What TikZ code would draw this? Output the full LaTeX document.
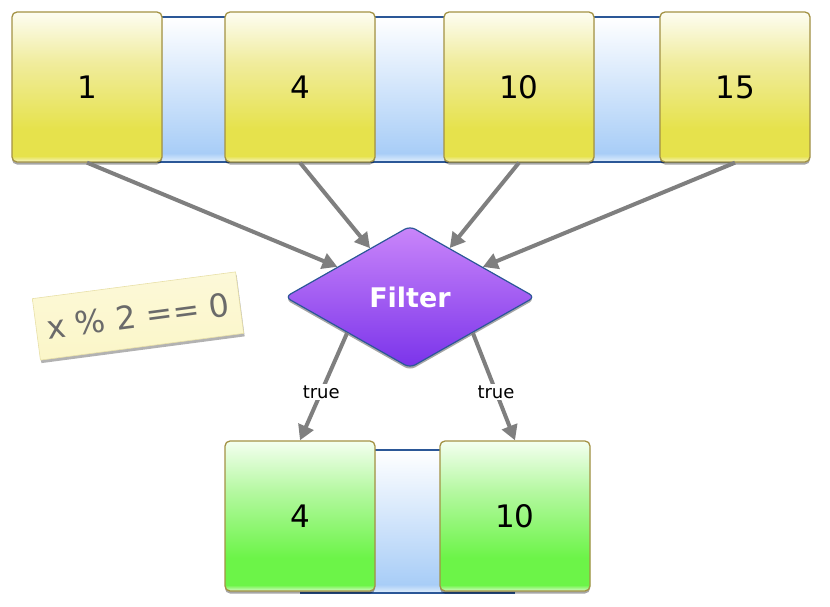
\documentclass[tikz,border=0pt]{standalone}
\usepackage{fontspec}
\setmainfont{DejaVu Sans}
\usetikzlibrary{shapes.geometric,shadows,arrows.meta}
\definecolor{ytop}{HTML}{FDFDF2}
\definecolor{ymid}{HTML}{F0EC9C}
\definecolor{ybot}{HTML}{E6E24C}
\definecolor{ysheen}{HTML}{F6F4C8}
\definecolor{gtop}{HTML}{F4FFF0}
\definecolor{gmid}{HTML}{B4F8A0}
\definecolor{gbot}{HTML}{6CF448}
\definecolor{gsheen}{HTML}{D8FBC8}
\definecolor{btop}{HTML}{FFFFFF}
\definecolor{bbot}{HTML}{A8CDF7}
\definecolor{bsheen}{HTML}{E4F0FC}
\definecolor{ptop}{HTML}{CA86FA}
\definecolor{pbot}{HTML}{7A33EA}
\definecolor{boxline}{HTML}{A39244}
\definecolor{blueline}{HTML}{2B5797}
\definecolor{arrgray}{HTML}{7F7F7F}
\definecolor{notefill}{HTML}{FBF6C8}
\definecolor{noteline}{HTML}{E8E0A8}
\definecolor{notetext}{HTML}{6A6A6A}
\pgfdeclareverticalshading{yelsh}{100bp}{color(0bp)=(ysheen); color(25bp)=(ysheen); color(27bp)=(ybot); color(36bp)=(ybot); color(58bp)=(ymid); color(75bp)=(ytop); color(100bp)=(ytop)}
\pgfdeclareverticalshading{grnsh}{100bp}{color(0bp)=(gsheen); color(25bp)=(gsheen); color(27bp)=(gbot); color(36bp)=(gbot); color(58bp)=(gmid); color(75bp)=(gtop); color(100bp)=(gtop)}
\pgfdeclareverticalshading{bandsh}{100bp}{color(0bp)=(bsheen); color(25bp)=(bsheen); color(28bp)=(bbot); color(75bp)=(btop); color(100bp)=(btop)}
\tikzset{
  valbox/.style={rectangle, rounded corners=5pt, draw=boxline, line width=1.3pt,
    minimum width=150pt, minimum height=150pt, inner sep=0pt,
    font=\fontsize{31}{36}\selectfont,
    drop shadow={shadow xshift=0pt, shadow yshift=-2.5pt, opacity=0.35, fill=black}},
  inbox/.style={valbox, shading=yelsh},
  outbox/.style={valbox, shading=grnsh},
  filterbox/.style={diamond, aspect=1.76, minimum width=250pt, minimum height=142pt,
    inner sep=0pt, rounded corners=6pt, draw=blueline, line width=1.2pt,
    top color=ptop, bottom color=pbot, text=white,
    font=\bfseries\fontsize{27}{32}\selectfont,
    drop shadow={shadow xshift=0pt, shadow yshift=-2.5pt, opacity=0.35, fill=black}},
  arr/.style={draw=arrgray, line width=4pt, -{Triangle[length=15pt,width=16pt]}},
  lbl/.style={fill=white, inner sep=2pt, text=black, font=\fontsize{18}{21}\selectfont},
  note/.style={rectangle, minimum width=205pt, minimum height=62pt, inner sep=0pt,
    top color=notefill!70!white, bottom color=notefill, draw=noteline, line width=0.6pt,
    text=notetext, font=\fontsize{32}{38}\selectfont,
    drop shadow={shadow xshift=1pt, shadow yshift=-3pt, opacity=0.3, fill=black}},
  bandline/.style={draw=blueline, line width=1.6pt}
}
\begin{document}
\begin{tikzpicture}[x=1pt,y=-1pt]
\useasboundingbox (0,0) rectangle (830,606);
% top band
\shade[shading=bandsh] (87,17) rectangle (735,162);
\draw[bandline] (87,17) -- (735,17);
\draw[bandline] (87,162) -- (735,162);
% bottom band
\shade[shading=bandsh] (300,450) rectangle (515,593);
\draw[bandline] (300,450) -- (515,450);
\draw[bandline] (300,593) -- (515,593);
% input boxes
\node[inbox] (n1) at (87,87) {1};
\node[inbox] (n2) at (300,87) {4};
\node[inbox] (n3) at (519,87) {10};
\node[inbox] (n4) at (735,87) {15};
% filter
\node[filterbox] (filter) at (410,297) {Filter};
% output boxes
\node[outbox] (o1) at (300,516) {4};
\node[outbox] (o2) at (515,516) {10};
% note
\node[note, rotate=7.5] (cond) at (138,316) {x \% 2 == 0};
% arrows
\draw[arr] (n1.south) -- (filter);
\draw[arr] (n2.south) -- (filter);
\draw[arr] (n3.south) -- (filter);
\draw[arr] (n4.south) -- (filter);
\draw[arr] (filter.south west) -- node[lbl, pos=0.55] {true} (o1.north);
\draw[arr] (filter.south east) -- node[lbl, pos=0.55] {true} (o2.north);
\end{tikzpicture}
\end{document}
